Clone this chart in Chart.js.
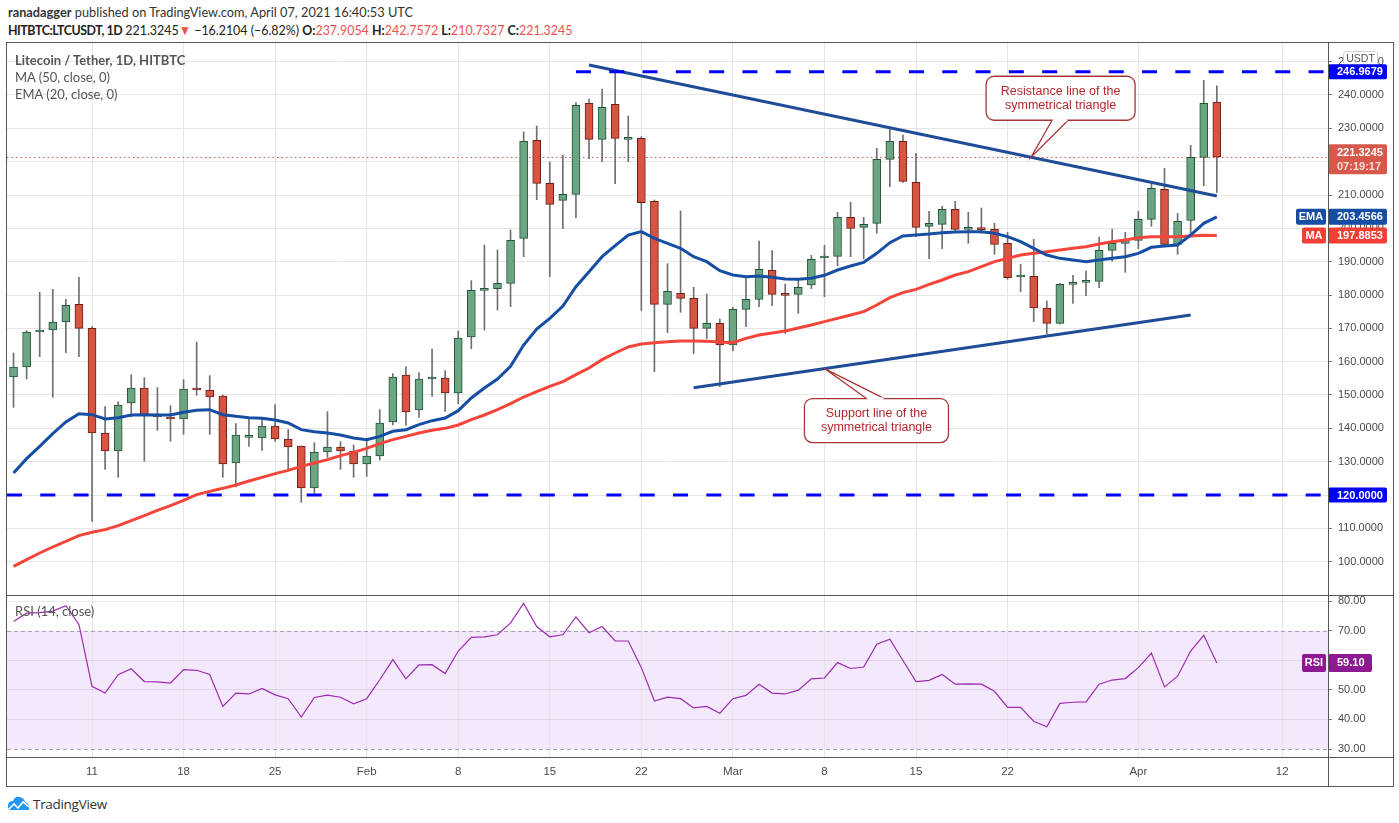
<!DOCTYPE html>
<html><head><meta charset="utf-8">
<script src="https://cdn.jsdelivr.net/npm/chart.js@4.4.1/dist/chart.umd.min.js"></script>
<style>
html,body{margin:0;padding:0;background:#fff;width:1399px;height:823px;overflow:hidden;font-family:Lato,'Open Sans',sans-serif;}
.abs{position:absolute;white-space:nowrap;}
.r{color:#ef5350;}
.frame{position:absolute;background:#555;}
#h1,#h2{transform-origin:0 50%;}
</style></head><body>
<div id="h1" class="abs" style="left:8px;top:4px;font-size:13.5px;color:#333;transform:scaleX(0.945);"><b>ranadagger</b> published on TradingView.com, April 07, 2021 16:40:53 UTC</div>
<div id="h2" class="abs" style="left:8px;top:22px;font-size:13.5px;color:#222;transform:scaleX(0.92);"></div>

<canvas id="main" width="1386" height="552" style="position:absolute;left:7px;top:43px"></canvas>
<canvas id="rsi" width="1386" height="191" style="position:absolute;left:7px;top:596px"></canvas>

<div class="abs" style="left:15px;top:52px;font-size:13px;color:#555;font-weight:bold;">Litecoin / Tether, 1D, HITBTC</div>
<div class="abs" style="left:15px;top:69px;font-size:13px;color:#555;">MA (50, close, 0)</div>
<div class="abs" style="left:15px;top:86px;font-size:13px;color:#555;">EMA (20, close, 0)</div>
<div class="abs" style="left:15px;top:603px;font-size:13px;color:#555;">RSI (14, close)</div>

<div class="frame" style="left:6px;top:42px;width:1388px;height:1px;"></div>
<div class="frame" style="left:6px;top:786px;width:1388px;height:1px;"></div>
<div class="frame" style="left:6px;top:42px;width:1px;height:745px;"></div>
<div class="frame" style="left:1393px;top:42px;width:1px;height:745px;"></div>
<div class="frame" style="left:6px;top:595px;width:1388px;height:1px;"></div>
<div class="frame" style="left:6px;top:757px;width:1388px;height:1px;"></div>
<div class="frame" style="left:1328px;top:42px;width:1px;height:745px;"></div>

<svg class="abs" style="left:6px;top:795px" width="24" height="17" viewBox="0 0 24 17">
  <path d="M2 15 L2 11 Q2 6 7 6 Q9 1 14 2 Q18 3 19 7 Q23 8 23 12 L23 15 Z" fill="#2196f3"/>
  <path d="M2 15 L8 9 L12 13 L17 7 L23 12" stroke="#fff" stroke-width="1.6" fill="none"/>
</svg>
<div class="abs" style="left:33px;top:795px;font-size:13.5px;color:#333;font-family:'Open Sans',sans-serif;letter-spacing:-0.3px;">TradingView</div>

<script>
// ---------- DATA ----------
const startDateUTC = [2021, 0, 5];      // first candle: 2021-01-05
const totalCategories = 101;             // through 2021-04-15 (empty right margin)

const opens = [155.4,158.4,168.9,169.5,171.9,177.2,170.0,138.6,133.2,147.6,152.1,143.8,143.4,142.8,152.1,151.5,149.7,129.6,137.3,137.1,140.7,136.8,134.7,122.1,132.9,134.4,133.2,
129.3,131.7,141.9,156.0,145.5,154.8,155.1,150.6,167.4,181.4,181.9,183.5,197.0,226.4,213.5,208.4,210.2,237.5,226.7,237.2,226.7,227.0,208.1,177.2,180.5,179.0,170.0,171.5,
165.0,175.7,178.7,187.4,180.5,180.2,183.0,191.1,191.6,203.3,200.3,201.5,220.7,226.1,213.8,200.6,201.2,205.7,199.7,200.0,199.7,195.5,185.4,185.6,176.1,171.5,183.2,183.8,184.1,193.4,195.5,
196.4,202.7,211.7,195.2,202.4,221.3,237.9054];
const highs = [162.6,169.3,180.8,181.7,178.7,185.3,170.5,146.5,148.0,156.1,155.2,152.2,146.8,154.6,165.9,155.8,150.0,141.4,143.4,142.6,147.1,139.6,134.7,135.7,145.0,136.0,135.0,
136.6,145.6,156.4,158.5,156.7,163.8,157.3,169.2,184.3,195.0,193.5,199.5,228.9,230.7,219.9,222.0,237.7,238.8,241.8,246.9679,233.7,227.5,208.5,189.4,205.2,182.3,180.3,172.8,
176.3,185.3,196.2,193.3,183.3,184.7,191.9,194.9,204.8,207.8,203.3,224.0,229.7,228.0,222.5,205.1,206.6,208.1,204.8,206.1,201.5,198.8,189.2,196.7,178.2,183.5,185.9,187.2,197.4,199.7,198.8,
205.1,213.2,218.0,204.5,224.9,244.4,242.7572];
const lows = [146.3,154.8,161.5,149.3,162.7,161.5,112.1,127.7,125.3,143.4,130.1,139.4,136.1,138.2,149.9,138.2,125.3,122.4,134.6,133.4,136.1,127.9,117.8,120.5,131.3,127.7,125.3,
125.6,130.5,141.0,140.9,143.3,149.6,145.1,147.4,163.9,169.5,175.5,176.5,191.5,208.6,185.5,199.9,203.2,220.9,220.0,213.4,220.0,175.3,157.0,168.7,174.8,162.4,166.9,152.5,
163.2,170.5,176.5,176.8,168.5,174.5,181.9,179.5,188.8,191.5,190.9,198.5,212.5,213.8,197.5,190.9,193.9,199.1,195.5,198.5,192.2,184.7,181.0,172.0,168.3,171.3,177.5,179.8,182.2,190.1,186.8,
193.9,200.6,194.9,192.2,198.1,212.8,210.7327];
const closes = [158.4,168.9,169.1,171.9,176.9,170.0,138.6,133.2,147.0,152.1,143.8,143.4,142.8,151.8,151.5,149.4,129.3,138.0,137.5,140.7,136.8,134.4,122.1,132.9,134.4,133.2,129.3,
131.7,141.6,155.4,144.9,154.8,155.0,150.6,167.1,181.4,181.6,183.5,196.4,226.1,213.5,207.2,210.2,236.9,226.7,236.3,227.0,226.9,207.7,177.2,181.1,179.0,170.0,171.5,165.0,
175.7,178.7,187.7,180.2,179.9,182.3,190.7,191.3,203.3,200.0,201.2,220.7,226.1,214.1,200.3,201.5,205.7,199.7,199.9,199.6,195.2,185.2,185.6,176.1,171.5,183.2,183.8,184.1,193.4,195.5,196.7,
202.7,212.0,195.2,202.1,221.3,237.5,221.3245];

const emaValues = [126.6,130.9,134.6,138.4,141.9,144.4,144.1,142.8,143.2,144.0,144.1,144.0,144.0,144.8,145.4,145.6,144.1,143.6,143.2,143.0,142.5,141.6,139.6,139.0,138.6,138.0,137.1,
136.6,137.6,139.1,139.6,141.1,142.3,143.1,145.3,149.1,152.1,154.8,158.6,165.0,169.8,173.0,176.7,182.5,187.0,191.5,194.8,198.0,199.0,197.0,195.5,194.0,191.5,190.0,187.3,
186.0,185.5,185.7,185.3,184.8,184.7,185.0,185.9,187.5,188.7,189.8,192.5,195.7,197.7,198.0,198.3,198.7,198.9,199.0,199.0,198.5,197.5,196.0,194.0,192.0,191.0,190.5,190.0,190.5,191.0,191.5,
192.5,194.3,194.7,195.0,198.0,201.5,203.4566];
const maValues = [98.6,100.6,102.6,104.4,106.1,107.8,108.8,109.6,110.8,112.3,113.8,115.4,116.8,118.4,120.1,121.1,122.0,123.0,124.2,125.3,126.4,127.4,128.6,129.6,130.6,131.8,132.8,
134.0,135.4,136.6,137.6,138.6,139.4,140.0,141.0,142.6,144.0,145.6,147.4,149.4,151.0,152.6,154.0,156.1,158.1,160.6,162.6,164.4,165.3,165.7,166.0,166.2,166.2,166.1,165.9,
165.7,167.0,168.0,168.6,169.2,170.1,171.0,172.0,173.0,174.0,175.0,177.0,179.2,180.7,181.7,183.2,184.5,186.0,187.0,188.5,190.0,191.0,192.0,192.5,193.0,193.5,194.0,194.5,195.3,196.0,196.5,
197.2,197.5,197.5,197.5,197.7,197.9,197.8853];
const rsiValues = [73.1,75.9,76.1,76.6,78.4,72.1,51.2,48.9,55.1,57.1,52.8,52.7,52.3,56.8,56.6,55.2,44.4,48.9,48.6,50.5,48.3,47.0,40.8,47.4,48.2,47.5,45.3,
47.0,53.4,60.2,53.7,58.4,58.5,55.5,63.1,67.7,67.9,68.6,72.6,79.2,71.4,67.9,68.6,74.6,69.3,71.4,66.5,66.5,57.5,46.2,47.5,47.0,43.9,44.4,42.1,
47.0,48.1,51.9,48.9,48.6,49.9,53.7,54.0,59.2,57.2,57.7,65.4,67.1,59.9,52.8,53.2,55.2,51.9,52.0,51.9,49.5,44.1,44.1,39.4,37.5,45.4,45.8,45.9,51.9,53.3,53.8,
57.5,62.4,51.0,54.6,63.1,68.4,59.10];

const tickDates = ['2021-01-11','2021-01-18','2021-01-25','2021-02-01','2021-02-08','2021-02-15','2021-02-22','2021-03-01','2021-03-08','2021-03-15','2021-03-22','2021-04-01','2021-04-12'];
const tickTexts = ['11','18','25','Feb','8','15','22','Mar','8','15','22','Apr','12'];
const priceTicks = [100,110,120,130,140,150,160,170,180,190,200,210,220,230,240,250];
const rsiTicks = [30,40,50,60,70,80];

const resistancePoints = [['2021-02-18', 249.0], ['2021-04-07', 209.7]];
const supportPoints = [['2021-02-26', 152.2], ['2021-04-05', 174.0]];
const topLevel = {value: 246.9679, from: '2021-02-17'};
const bottomLevel = {value: 120.0, from: null};
const lastPrice = 221.3245;
const countdown = '07:19:17';
const changeText = '\u221216.2104 (\u22126.82%)';

// ---------- helpers ----------
const dayLabels = [];
for (let i = 0; i < totalCategories; i++) {
  const d = new Date(Date.UTC(startDateUTC[0], startDateUTC[1], startDateUTC[2] + i));
  dayLabels.push(d.toISOString().slice(0, 10));
}
const tickIdx = tickDates.map(d => dayLabels.indexOf(d));
const tickSet = new Set(tickIdx);
const last = closes.length - 1;
const fmt4 = v => v.toFixed(4);

document.getElementById('h2').innerHTML =
  '<b style="letter-spacing:-0.5px">HITBTC:LTCUSDT, 1D</b> ' + fmt4(closes[last]) + '<span class="r">\u25BC</span> ' + changeText +
  ' <b>O:</b><span class="r">' + fmt4(opens[last]) + '</span> <b>H:</b><span class="r">' + fmt4(highs[last]) +
  '</span> <b>L:</b><span class="r">' + fmt4(lows[last]) + '</span> <b>C:</b><span class="r">' + fmt4(closes[last]) + '</span>';

const GREEN = '#6ba583', GREEN_B = '#225437', RED = '#d75442', RED_B = '#6b1e14';
const bodyColors = opens.map((o, i) => closes[i] >= o ? GREEN : RED);
const bodyBorders = opens.map((o, i) => closes[i] >= o ? GREEN_B : RED_B);
const axisFont = {family: '"Liberation Sans", Arial, sans-serif', size: 11};

function roundRect(ctx, x, y, w, h, r) {
  ctx.beginPath();
  ctx.moveTo(x + r, y);
  ctx.arcTo(x + w, y, x + w, y + h, r);
  ctx.arcTo(x + w, y + h, x, y + h, r);
  ctx.arcTo(x, y + h, x, y, r);
  ctx.arcTo(x, y, x + w, y, r);
  ctx.closePath();
}
function tag(ctx, x, w, yc, h, bg, lines, textColors, center) {
  ctx.fillStyle = bg;
  roundRect(ctx, x, yc - h / 2, w, h, 2);
  ctx.fill();
  ctx.font = 'bold 11px "Liberation Sans", Arial, sans-serif';
  ctx.textBaseline = 'middle';
  ctx.textAlign = center ? 'center' : 'left';
  const n = lines.length;
  lines.forEach((t, k) => {
    ctx.fillStyle = (textColors && textColors[k]) || '#fff';
    const ty = yc + (k - (n - 1) / 2) * 14;
    ctx.fillText(t, center ? x + w / 2 : x + 9, ty + 0.5);
  });
}
function lineAt(points, idx) {
  const i0 = dayLabels.indexOf(points[0][0]), i1 = dayLabels.indexOf(points[1][0]);
  return points[0][1] + (points[1][1] - points[0][1]) * (idx - i0) / (i1 - i0);
}

const callouts = [
  {points: resistancePoints, at: 77.8, text: ['Resistance line of the', 'symmetrical triangle'], dx: -45, dy: -81, w: 149, h: 44, tail: [21, 37], side: 'bottom'},
  {points: supportPoints, at: 62.0, text: ['Support line of the', 'symmetrical triangle'], dx: -20, dy: 30, w: 144, h: 44, tail: [42, 60], side: 'top'}
];

const mainPlugin = {
  id: 'mainPlugin',
  beforeDatasetsDraw(chart) {
    const {ctx, chartArea: a, scales: {y}} = chart;
    ctx.save();
    ctx.strokeStyle = '#d0574a'; ctx.lineWidth = 1; ctx.setLineDash([1.5, 3]);
    const yl = Math.round(y.getPixelForValue(lastPrice)) + 0.5;
    ctx.beginPath(); ctx.moveTo(a.left, yl); ctx.lineTo(a.right, yl); ctx.stroke();
    ctx.restore();
  },
  afterDatasetsDraw(chart) {
    const {ctx, chartArea: a, scales: {x, y}} = chart;
    ctx.save();
    ctx.beginPath(); ctx.rect(a.left, a.top, a.right - a.left, a.bottom - a.top); ctx.clip();
    ctx.strokeStyle = '#0000ff'; ctx.lineWidth = 3; ctx.setLineDash([15, 18.3]);
    [topLevel, bottomLevel].forEach(l => {
      const yy = y.getPixelForValue(l.value);
      const x0 = l.from ? x.getPixelForValue(dayLabels.indexOf(l.from)) : a.left;
      ctx.beginPath(); ctx.moveTo(x0, yy); ctx.lineTo(a.right, yy); ctx.stroke();
    });
    ctx.setLineDash([]);
    callouts.forEach(c => {
      const ax = x.getPixelForValue(c.at), ay = y.getPixelForValue(lineAt(c.points, c.at));
      const bx = ax + c.dx, by = ay + c.dy;
      const edgeY = c.side === 'bottom' ? by + c.h : by;
      ctx.lineWidth = 1.3; ctx.strokeStyle = '#a93636'; ctx.fillStyle = '#fff';
      roundRect(ctx, bx, by, c.w, c.h, 8); ctx.fill(); ctx.stroke();
      ctx.beginPath();
      ctx.moveTo(ax + c.tail[0], edgeY); ctx.lineTo(ax, ay); ctx.lineTo(ax + c.tail[1], edgeY);
      ctx.closePath(); ctx.fill();
      ctx.beginPath();
      ctx.moveTo(ax + c.tail[0], edgeY); ctx.lineTo(ax, ay); ctx.lineTo(ax + c.tail[1], edgeY);
      ctx.stroke();
      ctx.fillStyle = '#fff';
      ctx.fillRect(ax + c.tail[0] + 0.8, edgeY - 1.2, c.tail[1] - c.tail[0] - 1.6, 2.4);
      ctx.fillStyle = '#b0282c';
      ctx.font = '12.5px "Liberation Sans", Arial, sans-serif';
      ctx.textAlign = 'center'; ctx.textBaseline = 'middle';
      ctx.fillText(c.text[0], bx + c.w / 2, by + 15);
      ctx.fillText(c.text[1], bx + c.w / 2, by + 29);
    });
    ctx.restore();
  },
  afterDraw(chart) {
    const {ctx, chartArea: a, scales: {y}} = chart;
    const X = a.right, W = 59;
    ctx.save();
    ctx.fillStyle = '#fff'; ctx.strokeStyle = '#cfcfcf'; ctx.lineWidth = 1;
    roundRect(ctx, 1336.5, 8.5, 34, 15, 3); ctx.fill(); ctx.stroke();
    ctx.fillStyle = '#555'; ctx.font = '10.5px "Liberation Sans", Arial, sans-serif';
    ctx.textAlign = 'center'; ctx.textBaseline = 'middle'; ctx.fillText('USDT', 1353.5, 16.5);
    tag(ctx, X, W, y.getPixelForValue(topLevel.value), 15, '#0000ff', [fmt4(topLevel.value)]);
    tag(ctx, X, W, y.getPixelForValue(bottomLevel.value), 15, '#0000ff', [fmt4(bottomLevel.value)]);
    tag(ctx, X, W, y.getPixelForValue(lastPrice) + 2, 30, '#d6584a', [fmt4(lastPrice), countdown], ['#fff', '#f6dcd6']);
    const ye = y.getPixelForValue(emaValues[last]);
    tag(ctx, X, W, ye, 16, '#164ea4', [fmt4(emaValues[last])]);
    tag(ctx, X - 32, 30, ye, 16, '#164ea4', ['EMA'], null, true);
    const ym = y.getPixelForValue(maValues[last]);
    tag(ctx, X, W, ym, 16, '#f23f33', [fmt4(maValues[last])]);
    tag(ctx, X - 26, 24, ym, 16, '#f23f33', ['MA'], null, true);
    ctx.restore();
  }
};

const rsiPlugin = {
  id: 'rsiPlugin',
  beforeDraw(chart) {
    const {ctx, chartArea: a, scales: {y}} = chart;
    const y70 = y.getPixelForValue(70), y30 = y.getPixelForValue(30);
    ctx.save();
    ctx.fillStyle = 'rgba(152,40,230,0.10)';
    ctx.fillRect(a.left, y70, a.right - a.left, y30 - y70);
    ctx.restore();
  },
  beforeDatasetsDraw(chart) {
    const {ctx, chartArea: a, scales: {y}} = chart;
    ctx.save();
    ctx.strokeStyle = '#aaa0b4'; ctx.lineWidth = 1; ctx.setLineDash([4, 3]);
    [70, 30].forEach(v => {
      const yy = Math.round(y.getPixelForValue(v)) + 0.5;
      ctx.beginPath(); ctx.moveTo(a.left, yy); ctx.lineTo(a.right, yy); ctx.stroke();
    });
    ctx.restore();
  },
  afterDraw(chart) {
    const {ctx, chartArea: a, scales: {y}} = chart;
    ctx.save();
    const yr = y.getPixelForValue(rsiValues[last]);
    tag(ctx, a.right, 44, yr, 18, '#8e1a93', [rsiValues[last].toFixed(2)]);
    tag(ctx, a.right - 26, 24, yr, 18, '#8e1a93', ['RSI'], null, true);
    ctx.restore();
  }
};

const xCommon = {
  type: 'category',
  offset: true,
  grid: {offset: false, color: '#e6e6e6', drawTicks: false},
  border: {display: false},
  afterBuildTicks(s) { s.ticks = s.ticks.filter(t => tickSet.has(t.value)); }
};
function yFit(s) { s.width = 65; s.paddingTop = 0; s.paddingBottom = 0; }

new Chart(document.getElementById('main'), {
  type: 'bar',
  data: {
    labels: dayLabels,
    datasets: [
      {type: 'line', data: resistancePoints.map(p => ({x: p[0], y: p[1]})), borderColor: '#1e4c96', borderWidth: 3, pointRadius: 0, order: 0},
      {type: 'line', data: supportPoints.map(p => ({x: p[0], y: p[1]})), borderColor: '#1e4c96', borderWidth: 3, pointRadius: 0, order: 0},
      {type: 'line', data: emaValues, borderColor: '#164ea4', borderWidth: 3, pointRadius: 0, order: 1, tension: 0},
      {type: 'line', data: maValues, borderColor: '#f5453a', borderWidth: 3, pointRadius: 0, order: 2, tension: 0},
      {type: 'bar', data: opens.map((o, i) => [o, closes[i]]), backgroundColor: bodyColors, borderColor: bodyBorders, borderWidth: 1, borderSkipped: false, barThickness: 8, minBarLength: 2, grouped: false, order: 3},
      {type: 'bar', data: lows.map((l, i) => [l, highs[i]]), backgroundColor: '#6f6f6f', borderWidth: 0, barThickness: 1, grouped: false, order: 4}
    ]
  },
  options: {
    responsive: false, animation: false, devicePixelRatio: 1,
    layout: {padding: 0},
    plugins: {legend: {display: false}, tooltip: {enabled: false}},
    scales: {
      x: Object.assign({}, xCommon, {ticks: {display: false, autoSkip: false}, afterFit(s) { s.height = 0; s.paddingLeft = 0; s.paddingRight = 0; }}),
      y: {
        position: 'right', min: 90.0, max: 255.6,
        afterBuildTicks(s) { s.ticks = priceTicks.map(v => ({value: v})); },
        afterFit: yFit,
        grid: {color: '#e6e6e6', tickLength: 4, tickColor: '#777'},
        border: {display: false},
        ticks: {callback: v => Number(v).toFixed(4), font: axisFont, color: '#4a4a4a', padding: 6}
      }
    }
  },
  plugins: [mainPlugin]
});

new Chart(document.getElementById('rsi'), {
  type: 'line',
  data: {
    labels: dayLabels,
    datasets: [{data: rsiValues, borderColor: '#9c2bb0', borderWidth: 1.2, pointRadius: 0, tension: 0}]
  },
  options: {
    responsive: false, animation: false, devicePixelRatio: 1,
    layout: {padding: 0},
    plugins: {legend: {display: false}, tooltip: {enabled: false}},
    scales: {
      x: Object.assign({}, xCommon, {
        ticks: {autoSkip: false, maxRotation: 0, font: {family: '"Liberation Sans", Arial, sans-serif', size: 11.5}, color: '#4a4a4a', padding: 8,
                callback: v => tickTexts[tickIdx.indexOf(v)]},
        afterFit(s) { s.height = 30; s.paddingLeft = 0; s.paddingRight = 0; }
      }),
      y: {
        position: 'right', min: 27.3, max: 81.7,
        afterBuildTicks(s) { s.ticks = rsiTicks.map(v => ({value: v})); },
        afterFit: yFit,
        grid: {color: c => (c.tick && (c.tick.value === 70 || c.tick.value === 30)) ? 'rgba(0,0,0,0)' : 'rgba(0,0,0,0.09)', tickLength: 4, tickColor: '#777'},
        border: {display: false},
        ticks: {callback: v => Number(v).toFixed(2), font: axisFont, color: '#4a4a4a', padding: 6}
      }
    }
  },
  plugins: [rsiPlugin]
});
</script>
</body></html>
